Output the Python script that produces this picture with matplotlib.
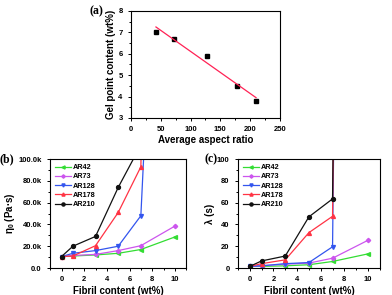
import matplotlib
matplotlib.use("Agg")
import matplotlib.pyplot as plt
from matplotlib.ticker import MultipleLocator, FuncFormatter

plt.rcParams['font.family'] = ['Liberation Sans', 'DejaVu Sans']
plt.rcParams['font.weight'] = 'bold'
plt.rcParams['axes.labelweight'] = 'bold'

# (a) gel point vs aspect ratio
aspect_ratio = [42, 73, 128, 178, 210]
gel_point = [7.0, 6.7, 5.9, 4.5, 3.8]
fit_x = [42, 210]
fit_y = [7.25, 3.95]

# (b)/(c) fibril content series
fibril = [0, 1, 3, 5, 7, 10]
names = ["AR42", "AR73", "AR128", "AR178", "AR210"]
eta0 = {
    "AR42": [10.5e3, 11e3, 12e3, 13.5e3, 17e3, 28.5e3],
    "AR73": [10.5e3, 11.5e3, 12.5e3, 16e3, 20.5e3, 38.5e3],
    "AR128": [10.5e3, 13.5e3, 16e3, 20e3, 48e3, 700e3],
    "AR178": [10.5e3, 11e3, 20.5e3, 51e3, 93e3, 1500e3],
    "AR210": [10.5e3, 20e3, 29e3, 74e3, 113e3, 1500e3],
}
lam = {
    "AR42": [1.5, 1.5, 2, 3, 6, 13],
    "AR73": [1.5, 2, 3.5, 4.5, 9, 25.5],
    "AR128": [1.5, 2, 4, 5, 19.5, 3000],
    "AR178": [1.5, 4, 7.5, 32.5, 47.5, 3000],
    "AR210": [1.5, 6.5, 11, 47, 63.5, 3000],
}
colors = {"AR42": "#33dd33", "AR73": "#cc55ee", "AR128": "#3355ee",
          "AR178": "#ff3344", "AR210": "#111111"}
markers = {"AR42": "<", "AR73": "D", "AR128": "v", "AR178": "^", "AR210": "o"}

fig = plt.figure(figsize=(3.92, 2.95), dpi=100)


def style_axes(ax):
    ax.tick_params(which='both', direction='out', labelsize=5.5, width=0.7)
    ax.tick_params(which='major', length=2.5)
    ax.tick_params(which='minor', length=1.5)
    for s in ax.spines.values():
        s.set_linewidth(0.8)


def panel_label(ax, text, dx=-0.42):
    ax.text(dx, 1.0, text, transform=ax.transAxes, fontsize=8.5,
            fontweight='bold', family='Liberation Serif', va='center')


# panel a
ax1 = fig.add_axes([0.334, 0.600, 0.380, 0.363])
ax1.plot(aspect_ratio, gel_point, 's', color='black', ms=2.2)
ax1.plot(fit_x, fit_y, '-', color='#ff2255', lw=0.9)
ax1.set_xlim(0, 250)
ax1.set_ylim(3, 8)
ax1.xaxis.set_major_locator(MultipleLocator(50))
ax1.xaxis.set_minor_locator(MultipleLocator(25))
ax1.yaxis.set_major_locator(MultipleLocator(1))
ax1.yaxis.set_minor_locator(MultipleLocator(0.5))
ax1.set_xlabel("Average aspect ratio", fontsize=7, labelpad=1)
ax1.set_ylabel("Gel point content (wt%)", fontsize=7, labelpad=2)
style_axes(ax1)
panel_label(ax1, "(a)", dx=-0.28)

kfmt = FuncFormatter(lambda v, p: "0.0" if v == 0 else "%.1fk" % (v / 1000))


def series_panel(rect, data, ylim, ystep, ylabel, label, fmt=None, dx=-0.42):
    ax = fig.add_axes(rect)
    for n in names:
        ax.plot(fibril, data[n], '-', marker=markers[n], color=colors[n],
                ms=2.8 if markers[n] != 'D' else 2.2, lw=0.9, label=n)
    ax.set_xlim(-1, 11)
    ax.set_ylim(*ylim)
    ax.xaxis.set_major_locator(MultipleLocator(2))
    ax.xaxis.set_minor_locator(MultipleLocator(1))
    ax.yaxis.set_major_locator(MultipleLocator(ystep))
    ax.yaxis.set_minor_locator(MultipleLocator(ystep / 2))
    if fmt is not None:
        ax.yaxis.set_major_formatter(fmt)
    ax.set_xlabel("Fibril content (wt%)", fontsize=7, labelpad=2)
    ax.set_ylabel(ylabel, fontsize=7, labelpad=1)
    style_axes(ax)
    ax.legend(loc='upper left', frameon=False, fontsize=5.2, handlelength=2.2,
              labelspacing=0.3, borderaxespad=0.3, handletextpad=0.3,
              markerscale=0.8)
    panel_label(ax, label, dx=dx)
    return ax


series_panel([0.128, 0.0915, 0.347, 0.369], eta0, (0, 100e3), 20e3,
             r"$\mathregular{\eta_0}$ (Pa·s)", "(b)", fmt=kfmt, dx=-0.37)
series_panel([0.607, 0.0915, 0.362, 0.369], lam, (0, 100), 20,
             "λ (s)", "(c)", dx=-0.235)

fig.savefig("out.png", dpi=100)
